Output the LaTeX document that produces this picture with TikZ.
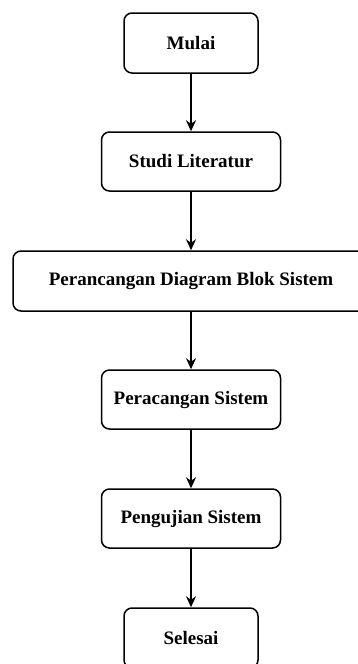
\documentclass[tikz,border=0pt]{standalone}
\usepackage{fontspec}
\setmainfont{Liberation Serif}
\usetikzlibrary{arrows.meta}
\tikzset{
	stepbox/.style={draw, line width=1.5pt, rounded corners=8pt, fill=white,
		font=\fontsize{19}{22}\selectfont\bfseries, minimum height=60pt, inner sep=0pt},
	flow/.style={-{Stealth[length=11pt,width=10pt]}, line width=1.6pt}
}
\begin{document}
\begin{tikzpicture}[x=1pt, y=-1pt]
		\useasboundingbox (0,0) rectangle (358,664);
		\clip (0,0) rectangle (358,664);
		%boxes, top to bottom
		\node[stepbox, minimum width=134pt] (mulai) at (191, 43){Mulai};
		\node[stepbox, minimum width=179pt, minimum height=59pt] (studi) at (191, 161.5){Studi Literatur};
		\node[stepbox, minimum width=356pt] (blok) at (191, 281){Perancangan Diagram Blok Sistem};
		\node[stepbox, minimum width=179pt, minimum height=59pt] (rancang) at (191, 399.5){Peracangan Sistem};
		\node[stepbox, minimum width=179pt, minimum height=59pt] (uji) at (191, 518.5){Pengujian Sistem};
		\node[stepbox, minimum width=134pt] (selesai) at (191, 638){Selesai};
		
		%arrows
		\draw[flow] (mulai) -- (studi);
		\draw[flow] (studi) -- (blok);
		\draw[flow] (blok) -- (rancang);
		\draw[flow] (rancang) -- (uji);
		\draw[flow] (uji) -- (selesai);
\end{tikzpicture}
\end{document}
